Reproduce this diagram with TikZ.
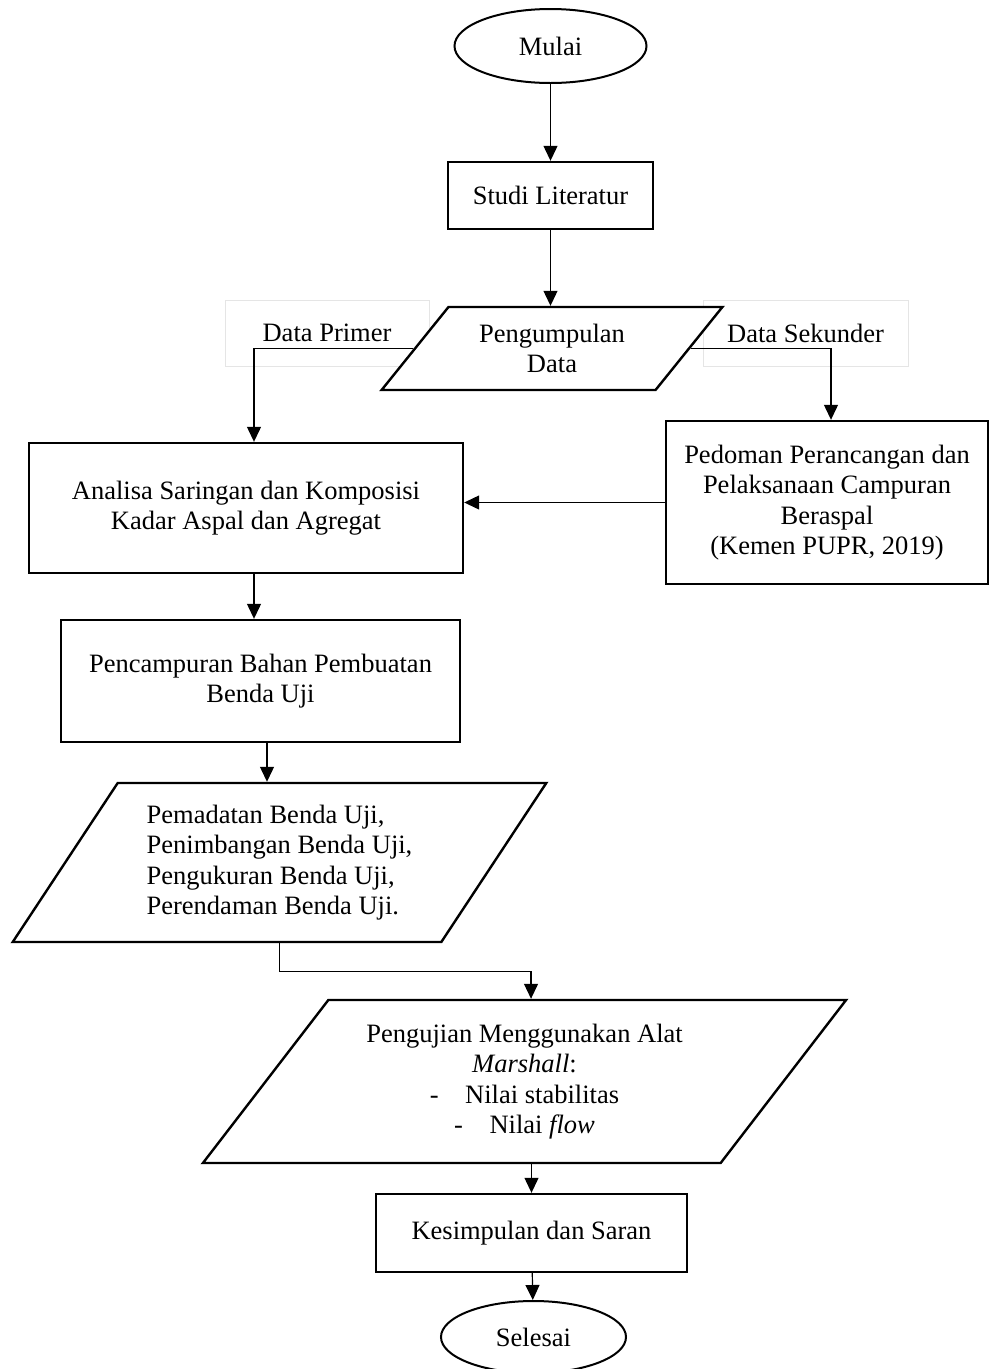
\documentclass[tikz,border=0pt]{standalone}
\usepackage{fontspec}
\setmainfont{Liberation Serif}
\usetikzlibrary{
  arrows.meta,
  shapes.geometric,
  calc
}

\begin{document}
\begin{tikzpicture}[
  x=1pt, y=-1pt,
  every node/.style={font=\fontsize{26.5}{30.5}\selectfont},
  proc/.style={draw, line width=2.4pt, align=center, inner sep=2pt},
  term/.style={draw, ellipse, line width=2pt, inner sep=0pt},
  io/.style={draw, trapezium, trapezium stretches=true, fill=white,
             line width=2.4pt, align=center, inner sep=2pt},
  tag/.style={draw=gray!20, line width=0.8pt, minimum width=204pt,
              minimum height=66pt},
  link/.style={->, line width=1.2pt},
  >={Triangle[length=15pt,width=14pt]}
]
\useasboundingbox (0,0) rectangle (989,1369);

\node[term, minimum width=192pt, minimum height=74pt]
  (mulai) at (550.5, 46) {Mulai};

\node[proc, minimum width=205pt, minimum height=67pt]
  (studi) at (550.5, 195.5) {Studi Literatur};

\node[tag] (primer) at (327, 333) {Data Primer};
\node[tag, minimum width=205pt] (sekunder) at (805.5, 333) {Data Sekunder};

\node[io, trapezium left angle=47.7, trapezium right angle=132.3,
      minimum width=342pt, minimum height=83pt]
  (kumpul) at (552, 348.5) {Pengumpulan\\Data};

\node[proc, minimum width=434pt, minimum height=130pt]
  (analisa) at (246, 508)
  {Analisa Saringan dan Komposisi\\Kadar Aspal dan Agregat};

\node[proc, minimum width=322pt, minimum height=163pt]
  (pedoman) at (827, 502.5)
  {Pedoman Perancangan dan\\Pelaksanaan Campuran\\Beraspal\\(Kemen PUPR, 2019)};

\node[proc, minimum width=399pt, minimum height=122pt]
  (campur) at (260.5, 681)
  {Pencampuran Bahan Pembuatan\\Benda Uji};

\node[io, align=left, trapezium left angle=53.8, trapezium right angle=126.2,
      minimum width=535pt, minimum height=159pt]
  (padat) at (279.5, 862.5)
  {Pemadatan Benda Uji,\\Penimbangan Benda Uji,\\Pengukuran Benda Uji,\\Perendaman Benda Uji.};

\node[io, trapezium left angle=49.4, trapezium right angle=130.6,
      minimum width=647pt, minimum height=163pt]
  (uji) at (524.5, 1081.5)
  {Pengujian Menggunakan Alat\\\textit{Marshall}:\\-\quad Nilai stabilitas\\-\quad Nilai \textit{flow}};

\node[proc, minimum width=311pt, minimum height=78pt]
  (simpul) at (531.5, 1233) {Kesimpulan dan Saran};

\node[term, minimum width=185pt, minimum height=72pt]
  (selesai) at (533.5, 1337) {Selesai};

% Arrows
\draw[link] (mulai) -- (studi);
\draw[link] (studi) -- (studi |- kumpul.north);
\draw[link] (kumpul.left side) -| ([xshift=8pt]analisa.north);
\draw[link] (kumpul.right side) -| ([xshift=4pt]pedoman.north);
\draw[link] (pedoman.west) -- (pedoman.west -| analisa.east);
\draw[link] ([xshift=8pt]analisa.south) -- ([xshift=8pt]analisa.south |- campur.north);
\draw[link] ([xshift=6.5pt]campur.south) -- ([xshift=6.5pt]campur.south |- padat.north);
\draw[link] (padat.south) -- ++(0, 28) -| ([xshift=6.5pt]uji.north);
\draw[link] (simpul.north |- uji.south) -- (simpul.north);
\draw[link] (simpul) -- (selesai);

\end{tikzpicture}
\end{document}
